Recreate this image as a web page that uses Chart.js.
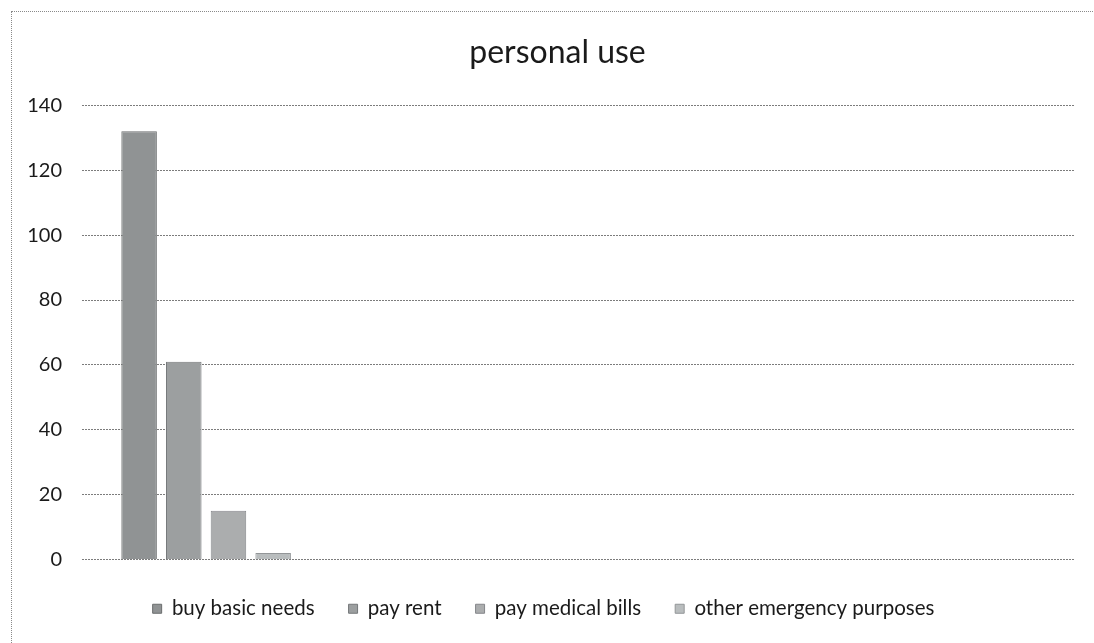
<!DOCTYPE html>
<html>
<head>
<meta charset="utf-8">
<script src="https://cdn.jsdelivr.net/npm/chart.js@4.4.1/dist/chart.umd.min.js"></script>
<style>
  html, body { margin: 0; padding: 0; background: #ffffff; }
  #wrap { position: relative; width: 1094px; height: 643px; overflow: hidden; }
  #frame { position: absolute; left: 11px; top: 11px; width: 1100px; height: 700px;
           border-left: 1px dotted #8a8a8a; border-top: 1px dotted #8a8a8a; box-sizing: border-box; }
  canvas { position: absolute; left: 0; top: 0; }
</style>
</head>
<body>
<div id="wrap">
  <div id="frame"></div>
  <canvas id="c" width="1094" height="643"></canvas>
</div>
<script>
const chartTitle = 'personal use';
const categories = ['', '', '', ''];
const seriesNames = ['buy basic needs', 'pay rent', 'pay medical bills', 'other emergency purposes'];
const buyBasicNeeds = [132, null, null, null];
const payRent = [61, null, null, null];
const payMedicalBills = [15, null, null, null];
const otherEmergency = [2, null, null, null];
const yTicks = [0, 20, 40, 60, 80, 100, 120, 140];

const fillColors = ['#909394', '#9c9fa0', '#abadae', '#b9bdbe'];
const borderColors = ['#6a6d6e', '#75787a', '#85878a', '#939698'];
const seriesValues = [buyBasicNeeds, payRent, payMedicalBills, otherEmergency];

const FONT = 'Lato, "Open Sans", sans-serif';

new Chart(document.getElementById('c'), {
  type: 'bar',
  data: {
    labels: categories,
    datasets: seriesNames.map((n, i) => ({
      label: n,
      data: seriesValues[i],
      backgroundColor: fillColors[i],
      borderColor: borderColors[i],
      borderWidth: 1,
      categoryPercentage: 0.72,
      barPercentage: 0.795
    }))
  },
  options: {
    responsive: false,
    animation: false,
    layout: { padding: { left: 12, right: 19, top: 0, bottom: 14 } },
    plugins: {
      tooltip: { enabled: false },
      title: {
        display: true,
        text: chartTitle,
        color: '#1a1a1a',
        font: { family: FONT, size: 32, weight: 'normal' },
        padding: { top: 33, bottom: 34 }
      },
      legend: {
        position: 'bottom',
        labels: {
          color: '#1a1a1a',
          font: { family: FONT, size: 20.5 },
          boxWidth: 9,
          boxHeight: 9,
          padding: 34
        }
      }
    },
    scales: {
      x: {
        grid: { display: false },
        border: { display: false },
        ticks: { display: false },
        afterFit: s => { s.height = 5; }
      },
      y: {
        min: 0,
        max: 140,
        afterBuildTicks: s => { s.ticks = yTicks.map(v => ({ value: v })); },
        afterFit: s => { s.width = 70; },
        border: { display: false, dash: [2, 1] },
        grid: { color: '#7c7c7c', lineWidth: 1, drawTicks: false },
        ticks: {
          color: '#1a1a1a',
          padding: 20,
          font: { family: FONT, size: 20 }
        }
      }
    }
  },
  plugins: [{
    id: 'titleShift',
    afterLayout(chart) {
      if (chart.titleBlock) { chart.titleBlock.left += 28; }
    }
  }]
});
</script>
</body>
</html>
